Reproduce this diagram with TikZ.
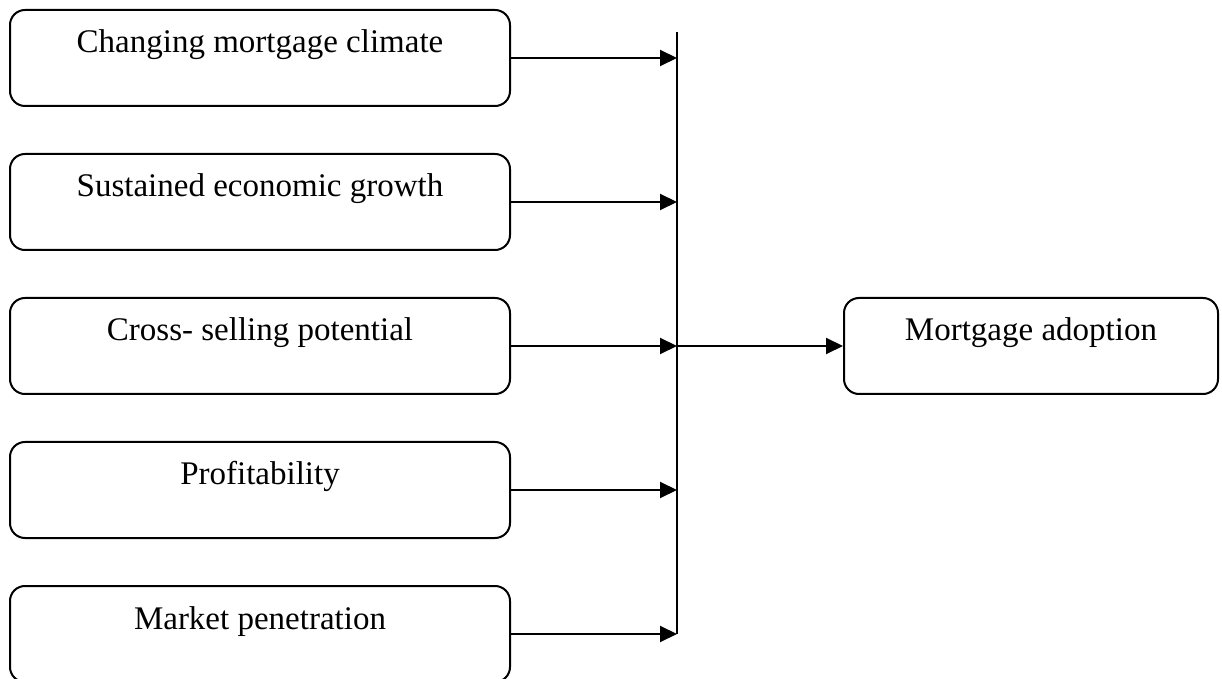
\documentclass[tikz,border=0pt]{standalone}
\usepackage{fontspec}
\setmainfont{Liberation Serif}
\usetikzlibrary{arrows.meta}
\tikzset{
	factor/.style={draw, line width=1pt, rounded corners=7.5pt, inner sep=0pt,
		minimum width=250pt, text height=21.5pt, text depth=26.5pt,
		font=\fontsize{16.5}{18}\selectfont},
	flow/.style={line width=1pt, -{Triangle[length=8.5pt,width=8pt]}}
}
\begin{document}
\begin{tikzpicture}[x=0.5pt,y=-0.5pt]
				\useasboundingbox (0,0) rectangle (1222,679);
				\node[factor, anchor=north west] (climate) at (9,9) {Changing mortgage climate};
				\node[factor, anchor=north west] (growth) at (9,153) {Sustained economic growth};
				\node[factor, anchor=north west] (cross) at (9,297) {Cross- selling potential};
				\node[factor, anchor=north west] (profit) at (9,441) {Profitability};
				\node[factor, anchor=north west] (market) at (9,585) {Market penetration};
				\node[factor, anchor=north west, minimum width=187pt] (adoption) at (843,297) {Mortgage adoption};
				\coordinate (top) at (677,32);
				\coordinate (J1) at (climate.east -| top);
				\coordinate (J2) at (growth.east -| top);
				\coordinate (J3) at (cross.east -| top);
				\coordinate (J4) at (profit.east -| top);
				\coordinate (J5) at (market.east -| top);
				\draw[line width=0.8pt] (top) -- (J5);
				\draw[flow] (climate.east) -- (J1);
				\draw[flow] (growth.east) -- (J2);
				\draw[flow] (cross.east) -- (J3);
				\draw[flow] (profit.east) -- (J4);
				\draw[flow] (market.east) -- (J5);
				\draw[flow] (J3) -- (adoption.west);
			\end{tikzpicture}
\end{document}
